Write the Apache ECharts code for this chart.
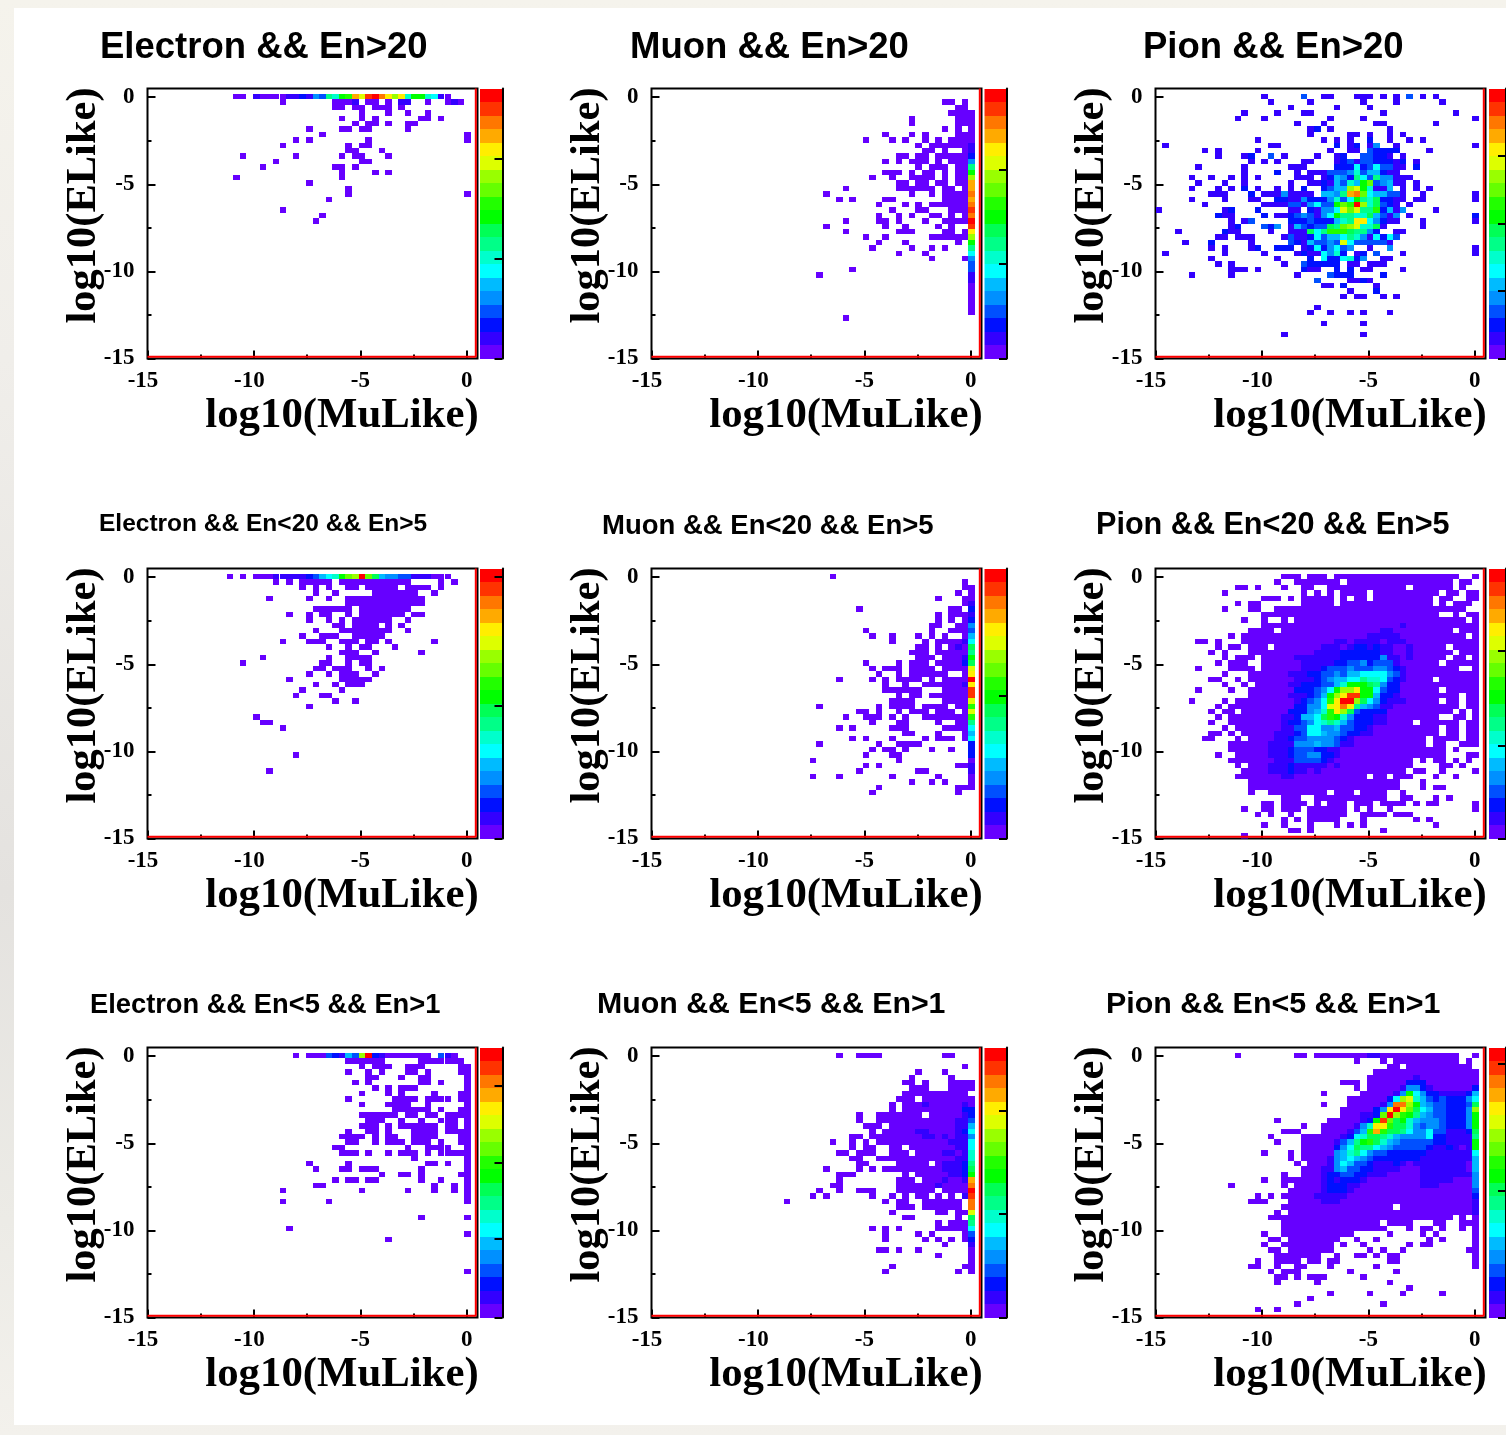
<!DOCTYPE html>
<html><head><meta charset="utf-8">
<script src="https://cdn.jsdelivr.net/npm/echarts@6/dist/echarts.min.js"></script>
<style>
html,body{margin:0;padding:0;width:1506px;height:1435px;overflow:hidden;
background:linear-gradient(180deg,#f5f3ec 0%,#f0eeea 25%,#e4e2df 62%,#ecebe6 85%,#f3f1ec 100%);}
#sheet{position:absolute;left:14px;top:8px;width:1492px;height:1417px;background:#fff;}
#main{position:absolute;left:0;top:0;width:1506px;height:1435px;filter:blur(0.5px);}
</style></head><body><div id="sheet"></div><div id="main"></div>
<script>
// Histogram contents: [row from the top, cells]. "a" or "a-b" = bins at the panel's base level,
// "a-b=L" = bins at level L, "a:LLL" = consecutive bins with the given levels (base-20 digits).
const electronHigh=[
[1,"13-14 16:1000011214387abgeijhfdf7aa7610"],[2,"20 28-30 31:1 33-34 36 38:11 42 45 46:1 47"],[3,"28-29 31-32 34-36 38"],[4,"32 36 39 42"],
[5,"29 32 34 41-42 44"],[6,"31 33-34 36 39-40"],[7,"24 29-30 32-33 39"],[8,"26 48"],[9,"22 24 33 48"],[10,"20 30 32-33"],[11,"30-31 35"],
[12,"14 22 29 31-32 36"],[13,"19 32-33"],[14,"17 28-29 31"],[15,"29 34 36"],[16,"13 29"],[17,"24"],[18,"30"],[19,"30 48"],[20,"27"],[22,"20"],[23,"26"],[24,"25"]];
const muonHigh=[
[2,"44-45 47"],[3,"46-47"],[4,"45-48"],[5,"39 46-48"],[6,"39 46-48"],[7,"44 46 48"],[8,"35 39 41 46-48"],[9,"32 36 38 41 43 45-48"],
[10,"40 42-47 48:1"],[11,"41-42 44 47 48:1"],[12,"37-38 40-41 43-47 48:2"],[13,"35 37 39-41 43 45-47 48:4"],[14,"40 42-44 46-47 48:8"],
[15,"35-37 39 41-42 44 46-47 48:a"],[16,"33 36 39-42 44 46-47 48:d"],[17,"37-38 40-41 43-44 46-47 48:g"],[18,"29 37-42 44-45 47 48:g"],
[19,"26 39 42 44-47 48:h"],[20,"28 30 35-36 44-47 48:g"],[21,"34 38 40 42-47 48:h"],[22,"36 40-41 45-47 48:i"],[23,"34 37 39 42-43 45 47 48:h"],
[24,"29 34-35 37 41 44-47 48:j"],[25,"26 35 38 43 45 48:i"],[26,"29 37-39 44-45 47 48:f"],[27,"32 35 42-47 48:d"],[28,"34 38 46 48:a"],
[29,"33 39 42 44 48:8"],[30,"37 41 48:6"],[31,"42 47 48:4"],[32,"48:3"],[33,"30 48:3"],[34,"25 48:1"],[35,"48:1"],[36,"48"],[37,"48"],[38,"48"],[39,"48"],[40,"48"],[41,"48"],[42,"29"]];
const pionHigh=[
[1,"16 22:3 25-26 30-32 34 36 38:3 40 42"],[2,"17 23 31 36 43"],[3,"20 27 32"],[4,"13 18 22-23 34 45"],[5,"12 16 26 31 48"],[6,"21 25 33-34 42"],
[7,"23 24:2 26 35"],[8,"23 29-30 32 35 37"],[9,"15 25 27 29 32:2 35 38 40"],[10,"1 17-18 27:2 29 30:2 32 33:4 36 48"],
[11,"7 9 15 26 29-30 32:3 33-36=2 41"],[12,"9 13 14:2 17:3 19 24 27:12 31:33 33:22 35 37"],[13,"14 16 18 22-23 27:1231 31:33 33-35=2 36 37:2 39"],
[14,"6 13 20-22 27-29=2 30:6 31:2 32:3 33:6 34:33 36-37 39:2"],[15,"13 18:2 21 23-25 26-28=3 29:47 31:3 32:55 34:2 35-36"],
[16,"5 8 11 13 15 21-23 25:1 26:2 27:54 29:2 30:86 32:3 33:8 34:44 36-38"],[17,"6 10 13 20 23-24 25:2 26 27:5 28:3 29:7 30:5 31:a 32:c 33:34 35:5 36-37 39"],
[18,"5 9 11 13:2 15 18 20 22:2 25:23 27:55 29:de 31:a7 33:11 35:5 37 39 41"],[19,"8-10 14:2 16-18 19:4 20-23 25:55 27:48 29:gh 31:c6 33:55 35:33 37 40 48"],
[20,"5 10 14-15 18:22 20-21 22:4 23-25=2 26:4 27:7 28:3 29:6 30:a 31:8 32:7 33:9 34:22 36-37 39-40 48"],
[21,"7 16-19 20:33 22 23:4 24:6 25:33 27:a 28:c 29:b 30:j 31:d 32:7 33:9 34:3 35:2 36 38"],
[22,"0 10 11:2 15:2 20-21 23:2 24 25:44 27:6 28:e 29:c 30:e 31:88 33:b 34:2 35:5 36 37:4 42"],
[23,"9:2 10-11 16:2 18-19 20:2343146a887795314 38 48:2"],[24,"11 13 14:3 20-22=2 23:3 24-26=2 27:5 28:7 29:8 30:ff 32:6 33:4 34:2 35-36 40 48"],
[25,"11 12:2 16:324 20 21:5 22:3 23:2 24:33 26:98cde 31:77 33:9 34 40"],[26,"3 10:2 11-12 17 20-22 23:968bbb9 30:88 32:42 36-37"],
[27,"9-10 12-14 19 20:3 21-22 23:26355687416263"],[28,"4 8:2 14 20:32 22 23:53343e6333331"],[29,"8 10 14 15:2 18-20=2 22 23:2 24:6 25:2 26:4 27:6 28:3 29:4 32 35:4 48"],
[30,"1 10 16 21 22:2 23-24 25:6472 30 31:2 33:3 37 48"],[31,"8 18 23:2 25:6226724 34-35"],[32,"9 11 19 22:3 23-27=2 29-30 32-34"],[33,"11-13 15 22:2 23-24 27:2 29:2 31-32 37"],
[34,"5 11 21 26:3 27-29=2 34:2"],[35,"24:3 29-30 31:2 32"],[36,"25-26 28:2 33"],[37,"29 33:2"],[38,"28 30-31 34 36"],[40,"24"],[41,"23 26 29 31 35"],[43,"25 31"],[45,"19 31"]];
const electronMid=[
[1,"12 14 16-18 19-23=1 24:23567acdjc95 36-37=4 38-39=3 40-42=1 43-45"],
[2,"19 21 23-27 29-39 44 46"],[3,"23 25 27 30-31 33-37 39-42 44"],[4,"25 28 34-40 43"],[5,"18 24 27 30-41"],[6,"30-41"],[7,"25-30 32-39"],
[8,"21 24 26-27 30 32-38 40-41"],[9,"24 27 29 31-36 39"],[10,"28-29 31-34 36 38"],[11,"25 29-36 39"],[12,"23 26-28 31-35"],[13,"20 24-26 29-31 33-34 36 43"],
[14,"27 30 32-33 37"],[15,"29-31 34 41"],[16,"17 27 30-33"],[17,"14 26-27 30 32-33"],[18,"25-26 28-30 33 35"],[19,"24 27 29-31 34"],[20,"21 29-33"],
[21,"25 28 30-32"],[22,"23 29"],[23,"22 26-27"],[24,"28 31"],[25,"24"],[27,"16"],[28,"17-18"],[29,"20"],[34,"22"],[37,"18"]];
const muonMid=[
[1,"27"],[2,"47"],[3,"47-48"],[4,"46 48"],[5,"43 47-48"],[6,"47 48:1"],[7,"31 45-46 48:2"],[8,"43 45-47 48:1"],[9,"43 45 47 48:2"],[10,"42-43 46-47 48:4"],
[11,"32 42 45-47 48:3"],[12,"33 36 40 42 44 47 48:5"],[13,"36 41 43-46 47:16"],[14,"40-41 43 45 46:109"],[15,"39-41 43-47 48:8"],[16,"40-42 44-46 47:1a"],
[17,"32 37 39-41 43-46 47:29"],[18,"33 35-37 39-42 44-47 48:e"],[19,"34 37 39-44 47 48:f"],[20,"28 33 35 37-40 42 44-47 48:j"],[21,"35 38 41-46 47:1f"],
[22,"35-40 44-47 48:i"],[23,"37 39-40 42-47 48:i"],[24,"36-39 44-47 48:e"],[25,"25 34 36-39 41-44 46-47 48:b"],[26,"31-32 34 37 39-41 43-45 47 48:e"],
[27,"29 32-34 36 38 41-47 48:b"],[28,"33 37-38 43 46-47 48:8"],[29,"28 30 36-38 44-47 48:6"],[30,"38-39 43 47 48:5"],[31,"30 32 36 41 43-45 47 48:6"],
[32,"25 34 37-40 48:2"],[33,"33 35-36 38 42 45 48:2"],[34,"32 36-37 48:2"],[35,"24 37 48"],[36,"32 34 46-47 48:1"],[37,"31 40-41 48:1"],[38,"24 28 36 43 48"],
[39,"39 42 44 48"],[40,"34 46-48"],[41,"33 46"]];
const pionMid=[
[1,"19-21 23-25 27-45 48"],[2,"18 21-27 29-44 46-47"],[3,"12-13 15 19 22-23 26-37 39-44 46"],[4,"10 22 24 26 28-31 33-42 44-45 47-48"],
[5,"16-18 20 22-26 28 30-31 33-41 43-44 47-48"],[6,"12 14-15 22-26 28-41 43 45-47"],[7,"10 14-15 18-46"],[8,"16-42 45 47-48"],[9,"13 16 19 21-46 48"],
[10,"16-36 37:1 38-48"],[11,"14-17 19-33 34-35=1 36-44 46-48"],[12,"11 13-31 32-36=1 37-46 48"],[13,"6-7 9 13-26 27-28=1 29 30-33=1 34 35-37=1 38-48"],
[14,"9 11-12 14-16 18-24 25-27=1 28 29:1 30:22 32:1 33:2 34:11 36-37 38:1 39-43 45-48"],[15,"8 10 14-23 24-27=1 28-33=2 34-35=1 36-37 38:1 39-44 46-48"],
[16,"10 12-14 16-20 21-27=1 28-33=2 34:4 35:11 37 38:1 39-43 45-46 48"],[17,"9 11-13 16-21 22-26=1 27:2233 31:4 32:2 33:333 36:1 37-42 44-48"],
[18,"6 11-14 16-21 22-24=1 25:2333433344321 38-45 48"],[19,"10 14-19 20-22=1 23:223343556666431 38-48"],[20,"8-9 12 14-20 21-23=1 24:23455668776321 38-41 43-48"],
[21,"10 13 15-19 20-21=1 22-24=2 25:3357aaa98422 37-48"],[22,"6 11 14-20 21-23=2 24:346addfaa6322 37-42 44-48"],[23,"14-19 20-22=1 23:235adfiiaa5221 37-45 47-48"],
[24,"5 10 12-20 21:12346bfjjd9642111 38-42 44-45 47-48"],[25,"9 11-20 21:22446efhf854311 36-45 47-48"],[26,"8 10-11 13-19 20-22=2 23:457bfd932222 35-44 46 48"],
[27,"9 11-18 19-20=1 21:25569ba7422211 35-42 45-46 48"],[28,"8 11-18 19:1 20:223467875322211 35-38 40-45 47-48"],[29,"10 12-18 19-20=1 21:336644533221 33-42 44-45 47-48"],
[30,"8-9 11 13-17 18-20=1 21:236654432211 33-42 44-45 47-48"],[31,"7-8 12 14-17 18-19=1 20:2 21:33 23-26=4 27:321 30-40 42-45 47-48"],
[32,"11-16 17-20=1 21-23=4 24:5 25:44 27:311 30-40 42-43 46-48"],[33,"11-16 17-19=1 20:2 21-23=3 24:22 26:11 28-43 45"],[34,"9 12-16 17-19=1 20:2 21:33 23:44 25:22 27:1 28-43 47-48"],
[35,"11-17 18-20=1 21-24=3 25:21 27-38 40 42-43 45 47"],[36,"12 14-16 17-19=1 20:2 21-25=1 26 27:1 28-38 43-44 46"],[37,"13-16 17-19=1 20:2 21-22=1 23 24:1 25-37 39-40 43 48"],
[38,"12-18 19-20=1 21-31 33-34 36-38 42 45"],[39,"14-36 40"],[40,"14-36 40 42-43"],[41,"14 17-25 27-29 31-34 37"],[42,"19-21 24-34 37-38 42 44"],
[43,"16-17 19-22 24 26-28 30-32 34-37 39 41-42 48"],[44,"13 16-17 19-21 23-28 30 32 35 48"],[45,"15 17 20 23-28 31-34 36-38"],[46,"19 21 23-27 31 39 41"],[47,"16 19 23 27 29 31 42"],[48,"20-21 23 34"],[49,"13"]];
const electronLow=[
[1,"22 24-26 27:32153dj21 36-42 44:31 46"],[2,"30-35 41-47"],[3,"32 34-36 39-41 47-48"],[4,"30 33 35 39-40 42 47-48"],[5,"33-34 38 41-42 48"],[6,"31 33 41-42 44 48"],
[7,"34 36 38-40 48"],[8,"32 36 38 43 47-48"],[9,"30 37-40 42-45 47-48"],[10,"32 36-39 42 48"],[11,"37-42 44 47-48"],[12,"32-37 39-40 42-43 45-48"],[13,"33-35 38 41 44-46 48"],
[14,"32-34 36 38-43 45-46 48"],[15,"30 33-34 36 40-43 45-48"],[16,"29-32 34 36-37 40-43 47-48"],[17,"30-31 34 36-38 40-42 44 47-48"],[18,"28-29 39 42-45 48"],
[19,"29-31 33 36 38-40 42 44-48"],[20,"40 48"],[21,"24 30 42-43 45 48"],[22,"25 29-30 32-34 41 48"],[23,"35 38-39 41 47-48"],[24,"28 30-31 33-34 41 44 48"],
[25,"25-26 43 46 48"],[26,"20 32 39 43 46 48"],[27,"48"],[28,"20 27 48"],[31,"41 48"],[33,"21"],[34,"48"],[35,"36"],[41,"48"]];
const muonLow=[
[1,"28 31-34 44-45"],[3,"47"],[4,"40 44"],[5,"39 45"],[6,"38-39 41 45-48"],[7,"39-41 45-48"],[8,"38-47"],[9,"37-39 41-48"],[10,"36 38-40 41:1 42-46 47:10"],[11,"36 38-46 47:22"],
[12,"31 34-40 42-46 47:12"],[13,"31 34-45 46:113"],[14,"32-34 36-45 46:115"],[15,"33 35-39 40:11 42-45 46:126"],[16,"30-31 33-40 41:11010114"],
[17,"27 30 32 34-44 45:11 47:16"],[18,"30 32-33 36-37 39-45 46:116"],[19,"28-29 31-33 36-38 40-43 44:110 47:17"],[20,"30-31 34-45 46:117"],[21,"31-32 37-41 43 44:11128"],
[22,"26 31 33 35-43 44:11129"],[23,"28-30 38 40-44 45:112a"],[24,"28 37-39 41-43 44:1001g"],[25,"27-28 37-42 43:1 44-47 48:h"],[26,"25 28 31-33 37-42 44-47 48:j"],
[27,"24 26 33 36 38 40-41 43 45 47:1i"],[28,"20 35 37-38 41-46 48:h"],[29,"37-39 41-46 48:h"],[30,"36 43-44 46-47 48:e"],[31,"38-39 46 48:9"],[32,"43 45-47 48:8"],
[33,"33 35 37 43-47 48:6"],[34,"35 40 42 47 48:3"],[35,"35 41 43 45 47 48:2"],[36,"44 48:1"],[37,"34-35 37 40 48"],[38,"43 48"],[39,"48"],[40,"36 47-48"],[41,"35 46 48"]];
const pionLow=[
[1,"12 21-22 24-31 32-33=1 34-45 48"],[2,"30 34 36-45 47"],[3,"35-36 38-47"],[4,"33-48"],[5,"32-38 39:1 40-48"],[6,"28-30 32-37 38-40=2 41-48"],
[7,"30 32-36 37:1 38-39=4 40:21 42-47 48:2"],[8,"25 31-35 36:14a64 41-42=2 43-46=1 47:25"],[9,"29-34 35:26de75323 44-46=2 47:46"],[10,"25 29-33 34:14hhda5433 44-46=2 47:39"],
[11,"28-32 33:24fjfc96533 44-46=2 47:4d"],[12,"28-30 31-32=1 33:2cjdba85433 44-46=2 47:4a"],[13,"18 26-30 31:12aic9a75 40-42=4 43:3 44-46=2 47:4a"],
[14,"22 25-29 30:147ffb99743443 44-46=2 47:4a"],[15,"19-21 25-28 29:135bgb998644633 44-46=1 47:29"],[16,"17 22-27 28:1267998754444622 44-46=1 47:18"],
[17,"18 22-26 27:1358ab97543333322 44-46=1 47:1a"],[18,"22-26 27:246988654333332112101a"],[19,"16 20 22-26 27:45786433222222 41-47=1 48:6"],
[20,"20 22-25 26:1456543 33-39=2 40-47=1 48:5"],[21,"21 23-25 26:1465332 33-35=1 36:21 38 39-46=1 47 48:5"],[22,"22-24 25-26=1 27:453322 33-36=1 37-39 40-46=1 47 48:5"],
[23,"19 22-24 25:1223322 32-34=1 35-39 40-47=1 48:4"],[24,"16 19-24 25:1212221 32-39 40-44=1 45-47 48:4"],[25,"11 19 21-24 25:122211 31-39 40-42=1 43-47 48:4"],
[26,"20-24 25:12221 30-47 48:3"],[27,"15 17 19-23 24-28=1 29-47 48:2"],[28,"14-16 20-24 25-27=1 28-47 48:1"],
[29,"19-35 37-47 48:1"],[30,"18 20-47 48:1"],[31,"17-44 46 48"],[32,"19-33 35-38 42-43 46-48"],[33,"19-34 38 40-41 43 46 48"],[34,"16 19-29 35 40 42 48"],[35,"17-18 20-27 30 33 41 43 48"],
[36,"16 19-26 28 31 38 40-41 48"],[37,"17-18 20-26 32 34 37 47-48"],[38,"18-24 27 30-31 33 35-36 48"],[39,"15 18-21 23-24 26-27 35-36 48"],[40,"14-15 18 21-22 26 33 48"],
[41,"17 19-21 29 36"],[42,"18-19 21 23-25 31"],[43,"18 24 35"],[44,"38"],[45,"26 32 37 43"],[46,"23"],[47,"21 34"],[48,"15 18"]];
const xTickValues=[-15,-10,-5,0], xMinorValues=[-12.5,-7.5,-2.5];
const yTickValues=[-15,-10,-5,0], yMinorValues=[-12.5,-7.5,-2.5];
const titles=["Electron && En>20","Muon && En>20","Pion && En>20","Electron && En<20 && En>5","Muon && En<20 && En>5","Pion && En<20 && En>5","Electron && En<5 && En>1","Muon && En<5 && En>1","Pion && En<5 && En>1"];
const panelRows=[electronHigh,muonHigh,pionHigh,electronMid,muonMid,pionMid,electronLow,muonLow,pionLow];
const panelBase=[0,0,1,0,0,0,0,0,0];
const barTicks=[[14.8,7.4],[14,7],[15,10,5],[19.4,9.8],[10.6],[13.9,6.9],[17.2,11.5,5.8],[15.3,7.7],[18.8,9.4]];
const palette=["#6600ff","#3300ff","#0010ff","#0050ff","#0090ff","#00bbff","#00ffff","#00ffcc","#00ff88","#00ff55","#00ff00","#22ff00","#66ff00","#99ff00","#ddff00","#ffee00","#ffaa00","#ff7700","#ff3300","#ff0000"];
const barLevels=palette.map((c,i)=>i);
const xLabel="log10(MuLike)", yLabel="log10(ELike)";

const binW=0.31, lo=-15, hi=0.5;
const titleSize=[36.5,36.5,36.5,24.5,27.5,30.6,27.3,30.3,30.4];
const titleLeft=[100,630,1143,99,602,1096,90,597,1106];
const titleMid=[45,45,45,523,525,524,1004,1003,1003];
const colL=[147.5,651.5,1155.5], rowT=[88.5,568.5,1047.5], barL=[480,984.5,1489];

function decode(rows,base){
  const out=[];
  rows.forEach(([r,spec])=>{
    const y=hi-(r+0.5)*binW;
    spec.trim().split(/\s+/).forEach(tok=>{
      if(tok.includes(':')){
        const [a,l]=tok.split(':');
        [...l].forEach((ch,i)=>out.push([lo+(+a+i+0.5)*binW,y,parseInt(ch,20)]));
      }else{
        const [rng,lv]=tok.split('=');
        const [a,b]=rng.split('-').map(Number);
        const e=b===undefined?a:b;
        for(let c=a;c<=e;c++)out.push([lo+(c+0.5)*binW,y,lv===undefined?base:parseInt(lv,20)]);
      }
    });
  });
  return out;
}
function cell(params,api){
  const x=api.value(0),y=api.value(1);
  const p0=api.coord([x-binW/2,y+binW/2]),p1=api.coord([x+binW/2,y-binW/2]);
  const x0=Math.round(p0[0]),y0=Math.round(p0[1]),x1=Math.round(p1[0]),y1=Math.round(p1[1]);
  return {type:'rect',shape:{x:x0,y:y0,width:x1-x0,height:y1-y0},style:{fill:palette[api.value(2)]}};
}
function barCell(params,api){
  const v=api.value(0);
  const p0=api.coord([0,v+1]),p1=api.coord([1,v]);
  const y0=Math.round(p0[1]),y1=Math.round(p1[1]);
  return {type:'rect',shape:{x:p0[0],y:y0,width:p1[0]-p0[0],height:y1-y0},style:{fill:palette[v]}};
}
const serif='"Liberation Serif"', sans='"Liberation Sans"';
const grid=[],xAxis=[],yAxis=[],series=[],title=[];
function tickFmt(v){return v<=-10?`{w|${v}}`:`${v}`;}
titles.forEach((t,i)=>{
  const c=i%3,r=Math.floor(i/3),g=grid.length;
  title.push({text:t,left:titleLeft[i],top:titleMid[i]-titleSize[i]*0.44,padding:0,
    textStyle:{fontFamily:sans,fontWeight:'bold',fontSize:titleSize[i],color:'#000'}});
  grid.push({left:colL[c],top:rowT[r],width:330,height:270,show:true,backgroundColor:'#fff',borderColor:'#000',borderWidth:2});
  const nx=xAxis.length,ny=yAxis.length;
  xAxis.push({type:'value',gridIndex:g,position:'bottom',min:lo,max:hi,splitLine:{show:false},
    axisLine:{show:false,onZero:false},
    axisTick:{show:true,inside:true,length:8,customValues:xTickValues,lineStyle:{color:'#000',width:2}},
    axisLabel:{show:true,customValues:xTickValues,formatter:tickFmt,margin:11,fontFamily:serif,fontWeight:'bold',fontSize:23,color:'#000',
      rich:{w:{fontFamily:serif,fontWeight:'bold',fontSize:23,color:'#000',padding:[0,9,0,0]}}},
    name:xLabel,nameLocation:'middle',nameGap:36,nameMoveOverlap:false,
    nameTextStyle:{fontFamily:serif,fontWeight:'bold',fontSize:42.8,color:'#000',padding:[0,0,0,59]}});
  xAxis.push({type:'value',gridIndex:g,position:'bottom',min:lo,max:hi,splitLine:{show:false},
    axisLine:{show:false,onZero:false},axisLabel:{show:false},
    axisTick:{show:true,inside:true,length:4,customValues:xMinorValues,lineStyle:{color:'#000',width:2}}});
  yAxis.push({type:'value',gridIndex:g,position:'left',min:lo,max:hi,splitLine:{show:false},
    axisLine:{show:false,onZero:false},
    axisTick:{show:true,inside:true,length:8,customValues:yTickValues,lineStyle:{color:'#000',width:2}},
    axisLabel:{show:true,customValues:yTickValues,margin:13,fontFamily:serif,fontWeight:'bold',fontSize:23,color:'#000'},
    name:yLabel,nameLocation:'middle',nameGap:42,nameRotate:90,nameMoveOverlap:false,
    nameTextStyle:{fontFamily:serif,fontWeight:'bold',fontSize:42.5,color:'#000',padding:[0,0,0,36]}});
  yAxis.push({type:'value',gridIndex:g,position:'left',min:lo,max:hi,splitLine:{show:false},
    axisLine:{show:false,onZero:false},axisLabel:{show:false},
    axisTick:{show:true,inside:true,length:4,customValues:yMinorValues,lineStyle:{color:'#000',width:2}}});
  series.push({type:'custom',name:t,xAxisIndex:nx,yAxisIndex:ny,renderItem:cell,silent:true,
    encode:{x:0,y:1},data:decode(panelRows[i],panelBase[i]),progressive:0,animation:false,clip:true,z:3});
  series.push({type:'line',xAxisIndex:nx,yAxisIndex:ny,silent:true,showSymbol:false,animation:false,z:4,
    lineStyle:{color:'#ff0000',width:2},data:[[lo,lo+0.1],[hi-0.08,lo+0.1],[hi-0.08,hi]]});
  // colour scale
  const gb=grid.length;
  grid.push({left:barL[c],top:rowT[r],width:22.5,height:270,show:false});
  const bx=xAxis.length,by=yAxis.length;
  xAxis.push({type:'value',gridIndex:gb,min:0,max:1,show:false});
  yAxis.push({type:'value',gridIndex:gb,position:'right',min:0,max:20,z:5,splitLine:{show:false},
    axisLine:{show:true,onZero:false,lineStyle:{color:'#000',width:2}},axisLabel:{show:false},
    axisTick:{show:true,inside:true,length:8,customValues:[0].concat(barTicks[i]),lineStyle:{color:'#000',width:2}}});
  series.push({type:'custom',xAxisIndex:bx,yAxisIndex:by,renderItem:barCell,silent:true,encode:{y:0},
    data:barLevels.map(v=>[v]),animation:false,z:1});
});
const chart=echarts.init(document.getElementById('main'),null,{renderer:'canvas',width:1506,height:1435});
chart.setOption({animation:false,backgroundColor:'transparent',title,grid,xAxis,yAxis,series});
</script></body></html>
